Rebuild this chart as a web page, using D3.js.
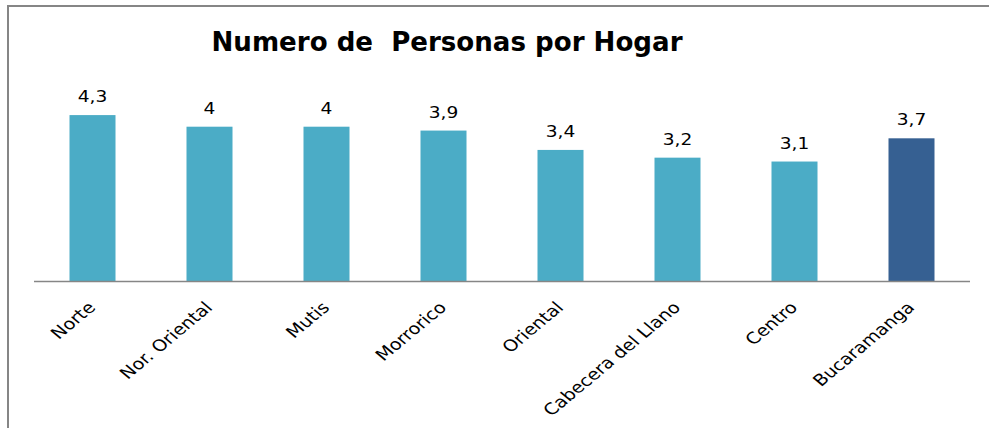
<!DOCTYPE html>
<html>
<head>
<meta charset="utf-8">
<script src="https://cdn.jsdelivr.net/npm/d3@7"></script>
<style>
  body { margin: 0; background: #fff; }
  svg { display: block; }
</style>
</head>
<body>
<div class="chart"></div>
<script>
// data
var categories = ['Norte', 'Nor. Oriental', 'Mutis', 'Morrorico', 'Oriental', 'Cabecera del Llano', 'Centro', 'Bucaramanga'];
var values     = [4.3, 4, 4, 3.9, 3.4, 3.2, 3.1, 3.7];
var barColors  = ['#4BACC6', '#4BACC6', '#4BACC6', '#4BACC6', '#4BACC6', '#4BACC6', '#4BACC6', '#366092'];
var title      = 'Numero de\u00a0 Personas por Hogar';

// variables
var W = 989, H = 428,
    plot = { left: 34, right: 970, top: 88, bottom: 281.5 },
    x = d3.scaleBand().domain(categories).range([plot.left, plot.right]),
    y = d3.scaleLinear().domain([0, 5]).range([plot.bottom, plot.top]),
    barW = 46,
    stretch = 1.2;

var es = d3.formatLocale({ decimal: ',', thousands: '.', grouping: [3], currency: ['$', ''] });
var fmt = es.format('~g');

var svg = d3.select('.chart')
    .append('svg')
    .attr('width', W)
    .attr('height', H);

// outer chart border (runs off the right and bottom edges)
svg.append('rect')
    .attr('x', 8)
    .attr('y', 6)
    .attr('width', 1200)
    .attr('height', 800)
    .attr('fill', 'none')
    .attr('stroke', '#868686')
    .attr('stroke-width', 2);

svg.append('text')
    .attr('x', 447)
    .attr('y', 51)
    .attr('text-anchor', 'middle')
    .attr('font-family', 'DejaVu Sans')
    .attr('font-weight', 'bold')
    .attr('font-size', 26)
    .attr('textLength', 471)
    .attr('lengthAdjust', 'spacingAndGlyphs')
    .attr('fill', '#000')
    .text(title);

// bars
svg.selectAll('rect.bar')
    .data(values)
    .enter()
    .append('rect')
    .attr('class', 'bar')
    .attr('x', function(d, i){ return x(categories[i]) + (x.bandwidth() - barW) / 2; })
    .attr('width', barW)
    .attr('y', function(d){ return y(d); })
    .attr('height', function(d){ return y(0) - y(d); })
    .attr('fill', function(d, i){ return barColors[i]; });

// value labels
svg.selectAll('text.val')
    .data(values)
    .enter()
    .append('text')
    .attr('class', 'val')
    .attr('transform', function(d, i){
        return 'translate(' + (x(categories[i]) + x.bandwidth() / 2) + ',' + (y(d) - 13) + ') scale(' + stretch + ',1)';
    })
    .attr('text-anchor', 'middle')
    .attr('font-family', 'DejaVu Sans')
    .attr('font-size', 15.5)
    .attr('fill', '#000')
    .text(function(d){ return fmt(d); });

// x axis
var xAxis = d3.axisBottom(x).tickSize(0).tickPadding(0);

var gx = svg.append('g')
    .attr('class', 'x axis')
    .attr('transform', 'translate(0,' + plot.bottom + ')')
    .call(xAxis);

gx.select('.domain')
    .attr('d', 'M' + plot.left + ',0H' + plot.right)
    .attr('stroke', '#868686')
    .attr('stroke-width', 1.5);

gx.selectAll('.tick text')
    .attr('x', null)
    .attr('y', null)
    .attr('dy', null)
    .attr('transform', 'translate(4,27) scale(' + stretch + ',1) rotate(-45)')
    .style('text-anchor', 'end')
    .attr('font-family', 'DejaVu Sans')
    .attr('font-size', 16)
    .attr('fill', '#000');
</script>
</body>
</html>
